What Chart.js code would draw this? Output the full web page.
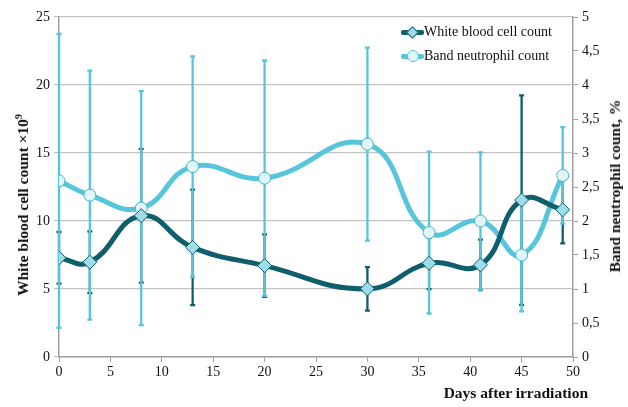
<!DOCTYPE html>
<html>
<head>
<meta charset="utf-8">
<script src="https://cdn.jsdelivr.net/npm/chart.js@4/dist/chart.umd.min.js"></script>
<style>
  html,body{margin:0;padding:0;background:#fff;}
  #wrap{position:relative;width:628px;height:407px;}
  #legend{position:absolute;left:401px;top:20px;font-family:"Liberation Serif",serif;font-size:14px;color:#111;}
  .item{display:flex;align-items:center;height:24px;}
  .sym{position:relative;width:23px;height:14px;margin-right:0px;}
  .sym .ln{position:absolute;left:0;right:0;top:5px;height:5px;border-radius:2px;}
  .sym .mk{position:absolute;}
  .atitle{position:absolute;font-family:"Liberation Serif",serif;font-weight:bold;font-size:15.5px;color:#111;white-space:nowrap;}
  .rot{transform:translate(-50%,-50%) rotate(-90deg);}
  sup{font-size:10px;vertical-align:6px;line-height:0;}
</style>
</head>
<body>
<div id="wrap">
  <canvas id="c" width="628" height="407"></canvas>
  <div id="legend">
    <div class="item"><div class="sym"><div class="ln" style="background:#0f5e6c"></div><div class="mk" style="left:7px;top:3px;width:7px;height:7px;transform:rotate(45deg);background:#9fdcea;border:1px solid #0f5e6c"></div></div><span>White blood cell count</span></div>
    <div class="item"><div class="sym"><div class="ln" style="background:#58c6da"></div><div class="mk" style="left:6px;top:1px;width:10px;height:10px;border-radius:50%;background:#e2f6fa;border:1px solid #58c6da"></div></div><span>Band neutrophil count</span></div>
  </div>
  <div class="atitle rot" style="left:23px;top:205px;">White blood cell count ×10<sup>9</sup></div>
  <div class="atitle rot" style="left:615px;top:186px;">Band neutrophil count, %</div>
  <div class="atitle" style="right:40px;top:384px;">Days after irradiation</div>
</div>
<script>
const days = [0, 3, 8, 13, 20, 30, 36, 41, 45, 49];
const wbc = [7.29, 6.97, 10.39, 8.06, 6.72, 5.01, 6.89, 6.77, 11.54, 10.83];
const wbcErr = [1.9, 2.27, 4.92, 4.25, 2.3, 1.6, 1.9, 1.86, 7.7, 2.47];
const band = [2.59, 2.38, 2.19, 2.80, 2.63, 3.13, 1.83, 2.0, 1.5, 2.67];
const bandErr = [2.16, 1.83, 1.72, 1.62, 1.73, 1.42, 1.19, 1.01, 0.83, 0.71];
const leftTicks = [0, 5, 10, 15, 20, 25];
const rightTicks = ['0', '0,5', '1', '1,5', '2', '2,5', '3', '3,5', '4', '4,5', '5'];

const DARK = '#0f5e6c', LIGHT = '#58c6da';
const FONT = '"Liberation Serif", "Times New Roman", serif';

const errPlugin = {
  id: 'errbars',
  beforeDatasetsDraw(chart) {
    const ctx = chart.ctx;
    const xs = chart.scales.x;
    chart.data.datasets.forEach((ds) => {
      const ys = chart.scales[ds.yAxisID];
      ctx.save();
      ctx.strokeStyle = ds.errColor;
      ctx.lineWidth = 2.3;
      ds.data.forEach((p, j) => {
        const e = ds.errors[j];
        const x = xs.getPixelForValue(p.x);
        const y1 = ys.getPixelForValue(p.y + e);
        const y2 = ys.getPixelForValue(p.y - e);
        ctx.beginPath();
        ctx.moveTo(x, y1); ctx.lineTo(x, y2);
        ctx.moveTo(x - 2.5, y1); ctx.lineTo(x + 2.5, y1);
        ctx.moveTo(x - 2.5, y2); ctx.lineTo(x + 2.5, y2);
        ctx.stroke();
      });
      ctx.restore();
    });
  }
};

new Chart(document.getElementById('c'), {
  type: 'line',
  data: {
    datasets: [
      {
        label: 'White blood cell count',
        data: days.map((d, i) => ({x: d, y: wbc[i]})),
        errors: wbcErr, errColor: DARK,
        yAxisID: 'y',
        borderColor: DARK, borderWidth: 5,
        pointStyle: 'rectRot', pointRadius: 7, pointBackgroundColor: '#9fdcea',
        pointBorderColor: DARK, pointBorderWidth: 1,
        tension: 0.45, fill: false
      },
      {
        label: 'Band neutrophil count',
        data: days.map((d, i) => ({x: d, y: band[i]})),
        errors: bandErr, errColor: LIGHT,
        yAxisID: 'y2',
        borderColor: LIGHT, borderWidth: 5,
        pointStyle: 'circle', pointRadius: 6, pointBackgroundColor: '#e2f6fa',
        pointBorderColor: '#3fb4ca', pointBorderWidth: 1,
        tension: 0.45, fill: false
      }
    ]
  },
  options: {
    responsive: false, animation: false,
    layout: {padding: {top: 17, left: 0, right: 0, bottom: 0}},
    plugins: {legend: {display: false}, tooltip: {enabled: false}},
    scales: {
      x: {
        type: 'linear', min: 0, max: 50,
        ticks: {stepSize: 5, color: '#111', font: {family: FONT, size: 14}, padding: 2},
        grid: {drawOnChartArea: false, drawTicks: true, tickLength: 5, color: '#a0a0a0'},
        border: {display: true, color: '#a0a0a0', width: 1.5},
        afterFit(s) { s.height = 50; }
      },
      y: {
        position: 'left', min: 0, max: 25,
        afterBuildTicks(s) { s.ticks = leftTicks.map(v => ({value: v})); },
        ticks: {color: '#111', font: {family: FONT, size: 14}, padding: 4},
        grid: {color: '#c4c4c4', lineWidth: 1.2, tickLength: 5},
        border: {display: true, color: '#a0a0a0', width: 1.5},
        afterFit(s) { s.width = 59; }
      },
      y2: {
        position: 'right', min: 0, max: 5,
        afterBuildTicks(s) { s.ticks = rightTicks.map((t, i) => ({value: i * 0.5})); },
        ticks: {color: '#111', font: {family: FONT, size: 14}, padding: 4,
                callback: (v, i) => rightTicks[i]},
        grid: {drawOnChartArea: false, color: '#a0a0a0', tickLength: 5},
        border: {display: true, color: '#a0a0a0', width: 1.5},
        afterFit(s) { s.width = 55; }
      }
    }
  },
  plugins: [errPlugin]
});
</script>
</body>
</html>
